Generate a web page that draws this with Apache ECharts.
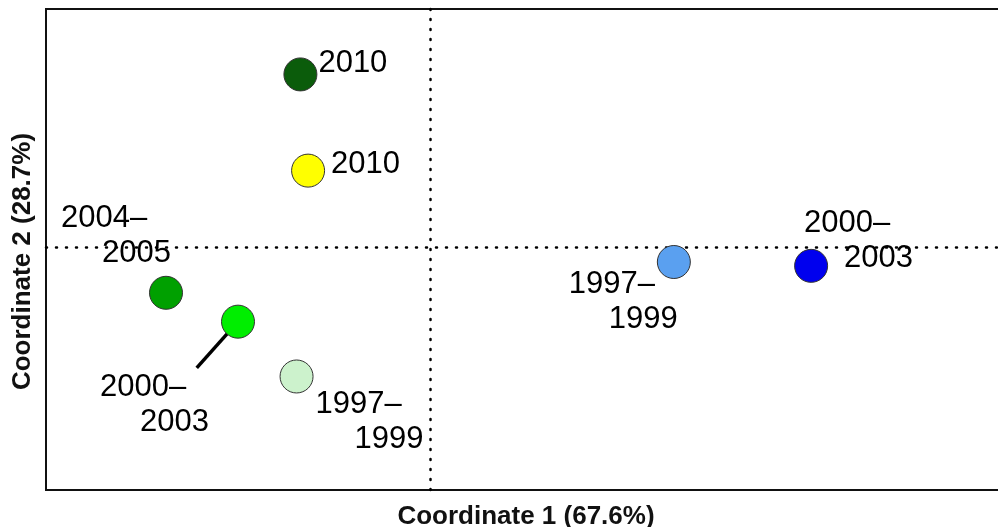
<!DOCTYPE html>
<html>
<head>
<meta charset="utf-8">
<script src="https://cdn.jsdelivr.net/npm/echarts@6/dist/echarts.min.js"></script>
<style>
  html, body { margin: 0; padding: 0; background: #fff; }
  #chart { width: 998px; height: 527px; }
</style>
</head>
<body>
<div id="chart"></div>
<script>
// ordination scores
var labels = ['2010', '2010', '2004–\n2005', '2000–\n2003', '1997–\n1999', '1997–\n1999', '2000–\n2003'];
var coord1 = [-0.135, -0.127, -0.275, -0.200, -0.139, 0.254, 0.397];
var coord2 = [0.180, 0.080, -0.047, -0.077, -0.134, -0.015, -0.019];
var colors = ['#0b5c0b', '#ffff00', '#00a000', '#00ee00', '#ccf2cc', '#5aa0f0', '#0000ee'];
// leader line end for the 2000-2003 green label
var leaderFrom = [-0.200, -0.077];
var leaderTo = [-0.243, -0.125];

// label placement (offset of text box from point centre, indent of second line)
var labelOffsets = [[18, -28], [23, -24], [-105, -92], [-138, 48], [19, 10], [-105, 5], [-7, -60]];
var secondIndent = [0, 0, 41, 40, 39, 40, 40];

var chart = echarts.init(document.getElementById('chart'));

var points = coord1.map(function (x, i) {
    var parts = labels[i].split('\n');
    var text = parts.length > 1 ? '{a|' + parts[0] + '}\n{b' + i + '|' + parts[1] + '}' : '{a|' + parts[0] + '}';
    var rich = { a: { fontSize: 31, lineHeight: 35, fontFamily: 'Liberation Sans, Arial', color: '#000' } };
    rich['b' + i] = { fontSize: 31, lineHeight: 35, fontFamily: 'Liberation Sans, Arial', color: '#000', padding: [0, 0, 0, secondIndent[i]] };
    return {
        value: [x, coord2[i]],
        itemStyle: { color: colors[i] },
        label: {
            show: true,
            formatter: text,
            position: 'inside',
            align: 'left',
            verticalAlign: 'top',
            offset: labelOffsets[i],
            rich: rich
        }
    };
});

chart.setOption({
    animation: false,
    grid: {
        left: 46, top: 9, width: 960, height: 481,
        outerBoundsMode: 'none', containLabel: false,
        show: true, borderColor: '#111', borderWidth: 2, backgroundColor: '#fff'
    },
    xAxis: {
        type: 'value', min: -0.4, max: 0.6,
        axisLine: { show: false }, axisTick: { show: false }, axisLabel: { show: false }, splitLine: { show: false },
        name: 'Coordinate 1 (67.6%)', nameLocation: 'middle', nameGap: 14,
        nameTextStyle: { fontSize: 26, fontWeight: 'bold', color: '#111', fontFamily: 'Liberation Sans, Arial' }
    },
    yAxis: {
        type: 'value', min: -0.252, max: 0.248,
        axisLine: { show: false }, axisTick: { show: false }, axisLabel: { show: false }, splitLine: { show: false },
        name: 'Coordinate 2 (28.7%)', nameLocation: 'middle', nameGap: 10,
        nameTextStyle: { fontSize: 26, fontWeight: 'bold', color: '#111', fontFamily: 'Liberation Sans, Arial', padding: [0, 24, 0, 0] }
    },
    series: [
        {
            type: 'line',
            data: [leaderFrom, leaderTo],
            symbol: 'none',
            lineStyle: { color: '#000', width: 3.5 },
            z: 1
        },
        {
            type: 'scatter',
            data: points,
            symbolSize: 33,
            itemStyle: { borderColor: '#333', borderWidth: 1, opacity: 1 },
            z: 3,
            markLine: {
                silent: true,
                symbol: 'none',
                label: { show: false },
                lineStyle: { color: '#000', width: 2.5, type: [1, 9], cap: 'round' },
                data: [{ xAxis: 0 }, { yAxis: 0 }],
                z: 1
            }
        }
    ]
});
</script>
</body>
</html>
